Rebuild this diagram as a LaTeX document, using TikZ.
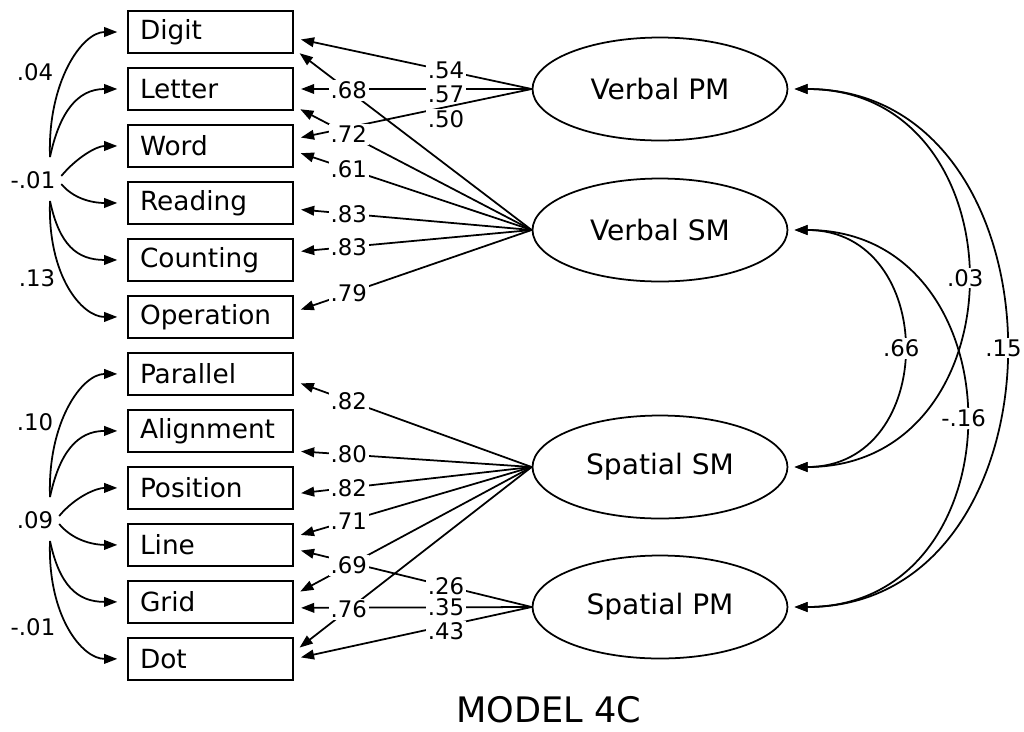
\documentclass[tikz,border=0pt]{standalone}
\usepackage{fontspec}
\setmainfont{DejaVu Sans}
\usetikzlibrary{shapes.geometric, arrows.meta, calc}

\begin{document}
\begin{tikzpicture}[x=0.02cm, y=0.02cm, node distance=1.14cm, line width=1pt,
  >={Triangle[length=7.5pt,width=5.5pt]},
  box/.style={draw, line width=1.2pt, minimum height=0.84cm, text width=2.82cm, inner xsep=0.24cm, align=left, font=\fontsize{15}{17}\selectfont},
  latent/.style={draw, ellipse, minimum width=5.1cm, minimum height=2.06cm, font=\fontsize{16}{18}\selectfont},
  lbl/.style={fill=white, inner sep=1pt, font=\fontsize{13}{15}\selectfont},
  load/.style={->, shorten >=4pt},
  cov/.style={->, shorten >=5.5pt}]
\useasboundingbox (0,0) rectangle (1024,-731);

% observed tasks
\node (digit) [box] at (210.5,-32) {Digit};
\node (letter) [box, below of=digit] {Letter};
\node (word) [box, below of=letter] {Word};
\node (reading) [box, below of=word] {Reading};
\node (counting) [box, below of=reading] {Counting};
\node (operation) [box, below of=counting] {Operation};
\node (parallel) [box, below of=operation] {Parallel};
\node (alignment) [box, below of=parallel] {Alignment};
\node (position) [box, below of=alignment] {Position};
\node (line) [box, below of=position] {Line};
\node (grid) [box, below of=line] {Grid};
\node (dot) [box, below of=grid] {Dot};

% factors
\node (vpm) [latent] at (660,-89) {Verbal PM};
\node (vsm) [latent] at (660,-230) {Verbal SM};
\node (ssm) [latent] at (660,-467) {Spatial SM};
\node (spm) [latent] at (660,-607) {Spatial PM};

% PM loadings
\draw[load] (vpm.west) -- node[lbl, pos=.36]{.54} ($(digit.east)+(0,-6)$);
\draw[load] (vpm.west) -- node[lbl, pos=.36, yshift=-3pt]{.57} (letter.east);
\draw[load] (vpm.west) -- node[lbl, pos=.36, yshift=-7pt]{.50} ($(word.east)+(0,7)$);
\draw[load] (spm.west) -- node[lbl, pos=.36]{.26} ($(line.east)+(0,-4)$);
\draw[load] (spm.west) -- node[lbl, pos=.36]{.35} ($(grid.east)+(0,-6)$);
\draw[load] (spm.west) -- node[lbl, pos=.36, yshift=-3pt]{.43} (dot.east);

% SM loadings
\draw[load] (vsm.west) -- node[lbl, pos=.77]{.68} ($(digit.east)+(0,-17)$);
\draw[load] (vsm.west) -- node[lbl, pos=.77]{.72} ($(letter.east)+(0,-17)$);
\draw[load] (vsm.west) -- node[lbl, pos=.77]{.61} ($(word.east)+(0,-5)$);
\draw[load] (vsm.west) -- node[lbl, pos=.77]{.83} ($(reading.east)+(0,-6)$);
\draw[load] (vsm.west) -- node[lbl, pos=.77]{.83} ($(counting.east)+(0,8)$);
\draw[load] (vsm.west) -- node[lbl, pos=.77]{.79} ($(operation.east)+(0,5)$);
\draw[load] (ssm.west) -- node[lbl, pos=.77]{.82} ($(parallel.east)+(0,-7)$);
\draw[load] (ssm.west) -- node[lbl, pos=.77]{.80} ($(alignment.east)+(0,-20)$);
\draw[load] (ssm.west) -- node[lbl, pos=.77]{.82} ($(position.east)+(0,-6)$);
\draw[load] (ssm.west) -- node[lbl, pos=.77]{.71} ($(line.east)+(0,8)$);
\draw[load] (ssm.west) -- node[lbl, pos=.77]{.69} ($(grid.east)+(0,7)$);
\draw[load] (ssm.west) -- node[lbl, pos=.77]{.76} ($(dot.east)+(0,7)$);

% factor correlations
\draw[<->, shorten <=3.5pt, shorten >=3.5pt] (vpm.east) to[out=0, in=0, looseness=1.42] node[lbl]{.15} (spm.east);
\draw[<->, shorten <=3.5pt, shorten >=3.5pt] (vpm.east) to[out=0, in=0, looseness=1.60] node[lbl]{.03} (ssm.east);
\draw[<->, shorten <=3.5pt, shorten >=3.5pt] (vsm.east) to[out=0, in=0, looseness=1.59] node[lbl]{-.16} (spm.east);
\draw[<->, shorten <=3.5pt, shorten >=3.5pt] (vsm.east) to[out=0, in=0, looseness=1.63] node[lbl]{.66} (ssm.east);

% error covariances, verbal
\coordinate (va) at (50,-157);
\coordinate (vb) at (50,-201);
\node (vmid) [lbl] at (33,-180) {-.01};
\draw[cov] (va) .. controls +(92:75) and +(180:45) .. (digit.west);
\draw[cov] (va) .. controls +(78:45) and +(180:50) .. (letter.west);
\draw[cov, shorten <=3pt] (vmid.east) to[out=50, in=180] (word.west);
\draw[cov, shorten <=3pt] (vmid.east) to[out=-50, in=180] (reading.west);
\draw[cov] (vb) .. controls +(-78:45) and +(180:50) .. (counting.west);
\draw[cov] (vb) .. controls +(-92:75) and +(180:45) .. (operation.west);
\node (vtop) [lbl] at (35,-72) {.04};
\node (vbot) [lbl] at (37,-278) {.13};

% error covariances, spatial
\coordinate (sa) at (50,-497);
\coordinate (sb) at (50,-541);
\node (smid) [lbl] at (35,-520) {.09};
\draw[cov] (sa) .. controls +(92:75) and +(180:45) .. (parallel.west);
\draw[cov] (sa) .. controls +(78:45) and +(180:50) .. (alignment.west);
\draw[cov, shorten <=3pt] (smid.east) to[out=50, in=180] (position.west);
\draw[cov, shorten <=3pt] (smid.east) to[out=-50, in=180] (line.west);
\draw[cov] (sb) .. controls +(-78:45) and +(180:50) .. (grid.west);
\draw[cov] (sb) .. controls +(-92:75) and +(180:45) .. (dot.west);
\node (stop) [lbl] at (35,-422) {.10};
\node (sbot) [lbl] at (33,-627) {-.01};

\node (title) at (549,-710) {\fontsize{20}{24}\selectfont MODEL 4C};
\end{tikzpicture}
\end{document}
